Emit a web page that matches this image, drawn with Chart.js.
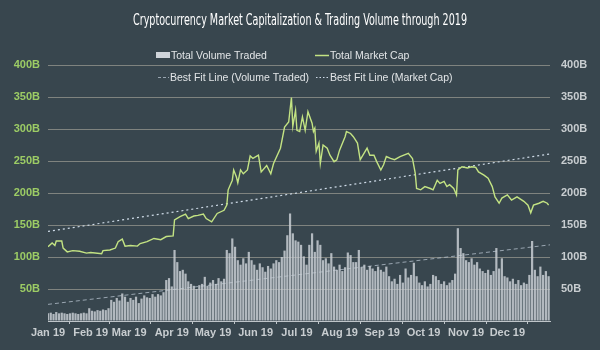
<!DOCTYPE html>
<html>
<head>
<meta charset="utf-8">
<script src="https://cdn.jsdelivr.net/npm/chart.js@4.4.1/dist/chart.umd.min.js"></script>
<style>
  html, body { margin: 0; padding: 0; background: #38464e; }
  #wrap { width: 600px; height: 350px; }
</style>
</head>
<body>
<div id="wrap"><canvas id="c" width="600" height="350"></canvas></div>
<script>
// ---- Data ----
const chartTitle = 'Cryptocurrency Market Capitalization & Trading Volume through 2019';
const monthLabels = ['Jan 19','Feb 19','Mar 19','Apr 19','May 19','Jun 19','Jul 19','Aug 19','Sep 19','Oct 19','Nov 19','Dec 19'];
const monthStartDays = [0, 31, 59, 90, 120, 151, 181, 212, 243, 273, 304, 334];
const yTickValues = [0, 50, 100, 150, 200, 250, 300, 350, 400];

// Total market cap (billions USD) at day-of-year
const capDays = [0,3,5,6,10,11,14,18,23,28,31,39,40,45,49,51,54,56,60,65,67,72,77,82,86,91,92,96,100,102,106,109,113,115,119,123,128,130,131,134,135,137,138,140,142,145,147,149,153,155,159,162,164,169,172,175,177,
  178,180,181,183,185,187,189,192,193,194,195,197,198,200,203,205,208,210,212,216,217,220,222,225,227,229,232,234,237,239,242,244,246,249,252,256,262,265,267,268,271,274,278,280,283,285,288,290,292,295,297,298,301,305,308,311,313,317,320,323,325,328,330,334,337,341,346,349,351,353,357,360,363,364];
const capValues = [116,122,118,125,125,114,108,110,109,106,107,105,110,111,114,124,128,117,118,117,121,124,129,127,132,133,158,163,167,160,164,165,167,160,155,168,173,181,205,220,236,225,216,236,230,236,258,254,259,233,243,230,246,270,303,311,349,
  304,329,298,296,319,298,327,309,296,301,265,278,246,275,270,259,249,252,267,288,296,293,288,278,252,259,270,259,259,249,236,244,257,254,252,257,262,254,231,207,205,210,207,205,220,215,218,210,213,207,197,236,241,239,241,240,233,228,223,210,194,184,192,197,189,194,187,181,169,181,184,187,184,181];

// Total volume traded (billions USD), one bar every second day from Jan 1
const volStep = 2;
const volValues = [
  12,13,11,14,12,13,12,11,12,13,12,11,12,13,12,
  20,16,15,17,16,18,17,20,
  33,30,36,32,43,38,
  30,36,33,38,28,35,40,37,36,42,
  38,42,40,45,64,67,54,
  111,92,78,80,74,
  62,58,55,
  50,56,58,69,
  55,60,64,58,67,62,66,
  111,106,129,116,
  95,88,98,90,
  108,95,
  88,80,90,84,77,86,82,90,
  95,92,100,110,134,
  168,137,126,124,119,101,88,119,137,108,126,119,
  95,98,90,106,85,80,88,78,84,107,103,92,92,111,84,88,80,86,82,78,85,80,77,85,
  70,62,66,58,72,60,82,68,72,91,70,60,56,62,54,58,72,70,64,58,62,56,60,64,74,
  145,114,106,95,92,98,88,92,82,78,75,80,72,78,114,82,98,70,68,62,66,58,64,56,60,58,72,125,80,70,85,72,78,70
];

// Best fit lines (end points)
const fitDays = [0, 365];
const fitVolValues = [26, 119];
const fitCapValues = [140, 261];

// ---- Build datasets ----
const capPoints = capDays.map((d, i) => ({ x: d, y: capValues[i] }));
const volPoints = volValues.map((v, i) => ({ x: i * volStep, y: v }));
const fitVolPoints = fitDays.map((d, i) => ({ x: d, y: fitVolValues[i] }));
const fitCapPoints = fitDays.map((d, i) => ({ x: d, y: fitCapValues[i] }));

const GREEN = '#c3e383';
const BAR = 'rgba(200,206,212,0.85)';
const FITVOL = 'rgba(185,198,210,0.75)';
const FITCAP = 'rgba(215,228,240,0.95)';
const BG = '#38464e';

const bgPlugin = {
  id: 'bg',
  beforeDraw(chart) {
    const ctx = chart.ctx;
    ctx.save();
    ctx.fillStyle = BG;
    ctx.fillRect(0, 0, chart.width, chart.height);
    ctx.restore();
  }
};

// Title drawn in a condensed style (horizontally compressed to the reference width)
const titlePlugin = {
  id: 'condensedTitle',
  afterDraw(chart) {
    const ctx = chart.ctx;
    ctx.save();
    ctx.font = '16px "DejaVu Sans Condensed", "DejaVu Sans", sans-serif';
    ctx.fillStyle = '#ffffff';
    ctx.textBaseline = 'alphabetic';
    ctx.textAlign = 'left';
    const w = ctx.measureText(chartTitle).width;
    const target = 334;
    const sx = target / w;
    ctx.translate(300 - target / 2, 25);
    ctx.scale(sx, 1);
    ctx.fillText(chartTitle, 0, 0);
    ctx.restore();
  }
};

const legendItems = [
  { text: 'Total Volume Traded', kind: 'box', sx: 156, tx: 171, y: 55 },
  { text: 'Total Market Cap', kind: 'line', sx: 315, tx: 330, y: 55 },
  { text: 'Best Fit Line (Volume Traded)', kind: 'dash', sx: 158, tx: 170, y: 77 },
  { text: 'Best Fit Line (Market Cap)', kind: 'dot', sx: 316, tx: 330, y: 77 }
];

const legendPlugin = {
  id: 'customLegend',
  afterDraw(chart) {
    const ctx = chart.ctx;
    ctx.save();
    ctx.font = '10.5px "Liberation Sans", Arial, sans-serif';
    ctx.textBaseline = 'middle';
    legendItems.forEach(it => {
      if (it.kind === 'box') {
        ctx.fillStyle = 'rgba(215,220,225,0.95)';
        ctx.fillRect(it.sx, it.y - 3, 14, 6);
      } else {
        ctx.beginPath();
        ctx.lineWidth = it.kind === 'line' ? 1.5 : 1;
        ctx.strokeStyle = it.kind === 'line' ? GREEN : (it.kind === 'dash' ? FITVOL : FITCAP);
        ctx.setLineDash(it.kind === 'dash' ? [3, 2] : (it.kind === 'dot' ? [1.5, 2] : []));
        ctx.moveTo(it.sx, it.y + 0.5);
        ctx.lineTo(it.tx - 1, it.y + 0.5);
        ctx.stroke();
        ctx.setLineDash([]);
      }
      ctx.fillStyle = '#e2e5e7';
      ctx.fillText(it.text, it.tx, it.y + 1);
    });
    ctx.restore();
  }
};

new Chart(document.getElementById('c'), {
  type: 'bar',
  data: {
    datasets: [
      { type: 'line', label: 'Total Market Cap', data: capPoints, yAxisID: 'y',
        borderColor: GREEN, borderWidth: 1.4, pointRadius: 0, tension: 0, order: 0 },
      { type: 'line', label: 'Best Fit Line (Market Cap)', data: fitCapPoints, yAxisID: 'y',
        borderColor: FITCAP, borderWidth: 1.2, borderDash: [2, 3], pointRadius: 0, order: 1 },
      { type: 'bar', label: 'Total Volume Traded', data: volPoints, yAxisID: 'y',
        backgroundColor: BAR, borderWidth: 0, barPercentage: 1, categoryPercentage: 0.8, order: 2 },
      { type: 'line', label: 'Best Fit Line (Volume Traded)', data: fitVolPoints, yAxisID: 'y',
        borderColor: FITVOL, borderWidth: 1, borderDash: [4, 3], pointRadius: 0, order: 3 }
    ]
  },
  options: {
    responsive: false,
    animation: false,
    layout: { padding: { top: 65, left: 0, right: 0, bottom: 0 } },
    plugins: {
      legend: { display: false },
      tooltip: { enabled: false },
      title: { display: false }
    },
    scales: {
      x: {
        type: 'linear', position: 'bottom', min: 0, max: 365, offset: false,
        afterBuildTicks: s => { s.ticks = monthStartDays.map(v => ({ value: v })); },
        afterFit: s => { s.height = 29; },
        grid: { drawOnChartArea: false, drawTicks: true, tickLength: 3, color: '#bfc5c9' },
        border: { color: '#bfc5c9' },
        ticks: {
          autoSkip: false, maxRotation: 0, minRotation: 0, padding: 2,
          color: '#c8cdd0', font: { family: '"Liberation Sans", Arial, sans-serif', size: 11, weight: 'bold' },
          callback: (v, i) => monthLabels[i]
        }
      },
      y: {
        position: 'left', min: 0, max: 400,
        afterBuildTicks: s => { s.ticks = yTickValues.map(v => ({ value: v })); },
        afterFit: s => { s.width = 48; },
        grid: { color: 'rgba(175,172,160,0.6)', drawTicks: false, lineWidth: 1 },
        border: { display: false },
        ticks: {
          padding: 8, color: '#9ccc65',
          font: { family: '"Liberation Sans", Arial, sans-serif', size: 11, weight: 'bold' },
          callback: v => v === 0 ? '' : v + 'B'
        }
      },
      y2: {
        position: 'right', min: 0, max: 400,
        afterBuildTicks: s => { s.ticks = yTickValues.map(v => ({ value: v })); },
        afterFit: s => { s.width = 50; },
        grid: { drawOnChartArea: false, drawTicks: false },
        border: { display: false },
        ticks: {
          padding: 11, color: '#c8cdd0',
          font: { family: '"Liberation Sans", Arial, sans-serif', size: 11, weight: 'bold' },
          callback: v => v === 0 ? '' : v + 'B'
        }
      }
    }
  },
  plugins: [bgPlugin, titlePlugin, legendPlugin]
});
</script>
</body>
</html>
